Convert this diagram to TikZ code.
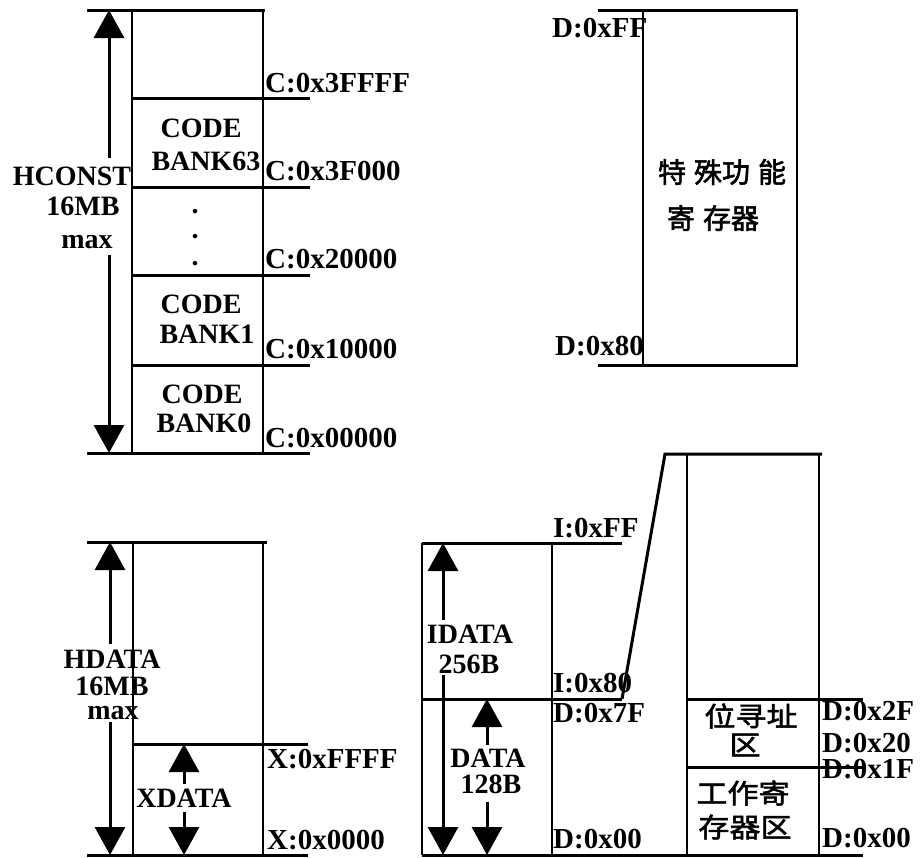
\documentclass[tikz,border=0pt]{standalone}
\usepackage{fontspec}
\setmainfont{Liberation Serif}
\newfontfamily\cjk[FakeBold=2]{Noto Sans CJK SC}
\newfontfamily\cjkw[FakeBold=2,FakeStretch=1.15]{Noto Sans CJK SC}
\usetikzlibrary{arrows.meta}
\begin{document}
\begin{tikzpicture}[x=1pt,y=-1pt,
  addr/.style={line width=3pt},
  wall/.style={line width=1.5pt},
  arr/.style={line width=3pt,-{Triangle[length=28pt,width=30pt]}},
  lbl/.style={font=\bfseries\fontsize{28}{30}\selectfont,inner sep=0pt,anchor=base},
  adr/.style={font=\bfseries\fontsize{29}{30}\selectfont,inner sep=0pt,anchor=base west},
  zh/.style={font=\cjk\fontsize{28}{30}\selectfont,inner sep=0pt},
  zhb/.style={font=\cjkw\fontsize{27}{28}\selectfont,inner sep=0pt}]
\useasboundingbox (0,0) rectangle (921,857);

% ---------- top-left: HCONST ----------
\draw[wall] (132,10) -- (132,453);
\draw[wall] (263,10) -- (263,453);
\draw[addr] (87,10) -- (265,10);
\draw[addr] (132,98) -- (310,98);
\draw[addr] (132,187) -- (310,187);
\draw[addr] (132,275) -- (310,275);
\draw[addr] (132,365) -- (310,365);
\draw[addr] (87,453) -- (310,453);

\node[lbl] (hc1) at (72,185) {HCONST};
\node[lbl] (hc2) at (83,215) {16MB};
\node[lbl] (hc3) at (87,248) {max};
\coordinate (hcT) at (109,10);
\coordinate (hcA) at (109,158);
\coordinate (hcB) at (109,255);
\coordinate (hcD) at (109,453);
\draw[arr] (hcA) -- (hcT);
\draw[arr] (hcB) -- (hcD);

\node[lbl] (cb63a) at (201,137) {CODE};
\node[lbl] (cb63b) at (206,170) {BANK63};
\node[lbl] (dot1) at (195,213) {.};
\node[lbl] (dot2) at (195,238) {.};
\node[lbl] (dot3) at (195,265) {.};
\node[lbl] (cb1a) at (201,313) {CODE};
\node[lbl] (cb1b) at (207,343) {BANK1};
\node[lbl] (cb0a) at (202,403) {CODE};
\node[lbl] (cb0b) at (204,432) {BANK0};

\node[adr] (c1) at (265,92) {C:0x3FFFF};
\node[adr] (c2) at (265,180) {C:0x3F000};
\node[adr] (c3) at (265,268) {C:0x20000};
\node[adr] (c4) at (265,358) {C:0x10000};
\node[adr] (c5) at (265,447) {C:0x00000};

% ---------- top-right: SFR ----------
\draw[wall] (643,10) -- (643,365);
\draw[wall] (797,10) -- (797,365);
\draw[addr] (598,10) -- (798,10);
\draw[addr] (598,365) -- (798,365);
\node[adr] (dff) at (552,37) {D:0xFF};
\node[adr] (d80) at (555,355) {D:0x80};
\node[zh] (sfr1) at (722,172) {特\hspace{8pt}殊功\hspace{8pt}能};
\node[zh] (sfr2) at (713,218) {寄\hspace{8pt}存器};

% ---------- bottom-left: HDATA ----------
\draw[wall] (133,542) -- (133,855);
\draw[wall] (263,542) -- (263,855);
\draw[addr] (87,542) -- (267,542);
\draw[addr] (133,744) -- (308,744);
\draw[addr] (87,855) -- (308,855);

\node[lbl] (hd1) at (112,668) {HDATA};
\node[lbl] (hd2) at (112,695) {16MB};
\node[lbl] (hd3) at (113,719) {max};
\coordinate (hdT) at (110,542);
\coordinate (hdA) at (110,644);
\coordinate (hdB) at (110,722);
\coordinate (hdD) at (110,855);
\draw[arr] (hdA) -- (hdT);
\draw[arr] (hdB) -- (hdD);

\node[lbl] (xd) at (184,807) {XDATA};
\coordinate (xdT) at (184,744);
\coordinate (xdA) at (184,784);
\coordinate (xdB) at (184,812);
\coordinate (xdD) at (184,855);
\draw[arr] (xdA) -- (xdT);
\draw[arr] (xdB) -- (xdD);

\node[adr] (xff) at (267,768) {X:0xFFFF};
\node[adr] (x00) at (267,849) {X:0x0000};

% ---------- bottom-middle: IDATA / DATA ----------
\draw[wall] (422,543) -- (422,855);
\draw[wall] (552,543) -- (552,855);
\draw[addr] (422,543) -- (622,543);
\draw[addr] (422,699) -- (622,699);
\draw[addr] (422,855) -- (863,855);
\coordinate (sl1) at (622,699);
\coordinate (sl2) at (665,454);
\draw[addr] (sl1) -- (sl2) -- (822,454);

\node[lbl] (id1) at (470,643) {IDATA};
\node[lbl] (id2) at (469,673) {256B};
\coordinate (idT) at (443,543);
\coordinate (idA) at (443,620);
\coordinate (idB) at (443,675);
\coordinate (idD) at (443,855);
\draw[arr] (idA) -- (idT);
\draw[arr] (idB) -- (idD);

\node[lbl] (da1) at (488,767) {DATA};
\node[lbl] (da2) at (491,793) {128B};
\coordinate (daT) at (487,699);
\coordinate (daA) at (487,745);
\coordinate (daB) at (487,802);
\coordinate (daD) at (487,855);
\draw[arr] (daA) -- (daT);
\draw[arr] (daB) -- (daD);

\node[adr] (iff) at (553,537) {I:0xFF};
\node[adr] (i80) at (553,692) {I:0x80};
\node[adr] (d7f) at (553,722) {D:0x7F};
\node[adr] (d00a) at (553,848) {D:0x00};

% ---------- bottom-right: lower 128 bytes ----------
\draw[wall] (687,454) -- (687,855);
\draw[wall] (819,454) -- (819,855);
\draw[addr] (687,699) -- (863,699);
\draw[addr] (687,767) -- (863,767);

\node[zhb] (bit1) at (751,716) {位寻址};
\node[zhb] (bit2) at (745,745) {区};
\node[zhb] (reg1) at (743,793) {工作寄};
\node[zhb] (reg2) at (745,827) {存器区};

\node[adr] (d2f) at (822,720) {D:0x2F};
\node[adr] (d20) at (822,752) {D:0x20};
\node[adr] (d1f) at (822,778) {D:0x1F};
\node[adr] (d00b) at (822,847) {D:0x00};
\end{tikzpicture}
\end{document}
